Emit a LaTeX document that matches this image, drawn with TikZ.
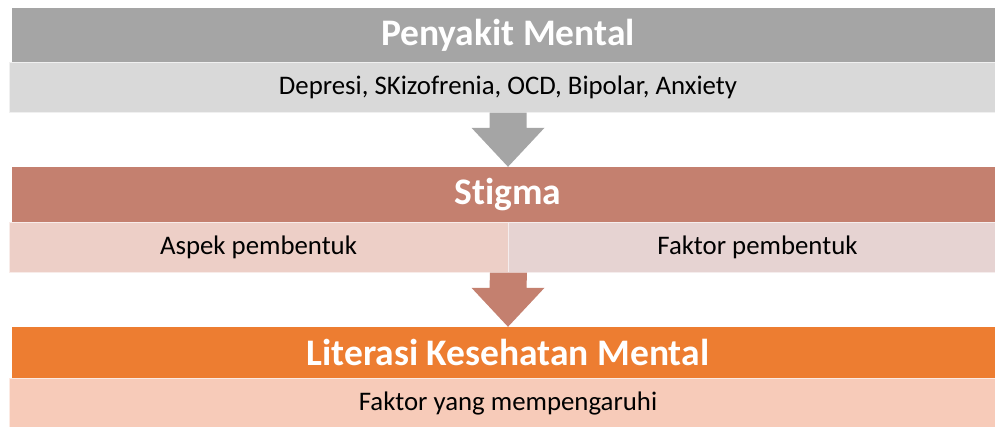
\documentclass[tikz,border=0pt]{standalone}
\usepackage{fontspec}
\setmainfont{Carlito}[Ligatures=NoCommon]
\usetikzlibrary{calc}
\definecolor{greyhead}{HTML}{A5A5A5}
\definecolor{greysub}{HTML}{D9D9D9}
\definecolor{stighead}{HTML}{C4806F}
\definecolor{aspeksub}{HTML}{EDCFC7}
\definecolor{faktorsub}{HTML}{E6D3D2}
\definecolor{lithead}{HTML}{ED7D31}
\definecolor{litsub}{HTML}{F7CBB9}
\tikzset{
  head/.style={rectangle,inner sep=0pt,text=white,font=\fontsize{37.5}{37.5}\selectfont\bfseries},
  sub/.style={rectangle,inner sep=0pt,draw=white!60!#1,fill=#1,line width=1pt,font=\fontsize{26.8}{26.8}\selectfont}
}
\newcommand{\blockarrow}[3]{%
  \fill[#3] ($(#1)+(-18.5,0)$) -- ($(#2)+(-18.5,-39)$) -- ($(#2)+(-36.5,-39)$) -- (#2)
    -- ($(#2)+(36.5,-39)$) -- ($(#2)+(18.5,-39)$) -- ($(#1)+(18.5,0)$) -- cycle;}

\begin{document}
\begin{tikzpicture}[x=1pt,y=-1pt]
\clip (0,0) rectangle (995,426);
\fill[white] (0,0) rectangle (995,426);
\node[sub=greysub,minimum width=998,minimum height=50] (pmsub) at (508,87) {Depresi, SKizofrenia, OCD, Bipolar, Anxiety};
\node[head,fill=greyhead,minimum width=992,minimum height=54] (pm) at (508,35) {Penyakit Mental};
\node[sub=aspeksub,minimum width=499,minimum height=50] (aspek) at (258.5,247) {Aspek pembentuk};
\node[sub=faktorsub,minimum width=499,minimum height=50] (faktor) at (757.5,247) {Faktor pembentuk};
\node[head,fill=stighead,minimum width=992,minimum height=55] (stigma) at (508,194.5) {Stigma};
\node[sub=litsub,minimum width=998,minimum height=50] (litsub) at (508,403) {Faktor yang mempengaruhi};
\node[head,fill=lithead,minimum width=992,minimum height=51] (literasi) at (508,352.5) {Literasi Kesehatan Mental};
\blockarrow{pmsub.south}{stigma.north}{greyhead}
\blockarrow{aspek.south east}{literasi.north}{stighead}
\end{tikzpicture}
\end{document}
